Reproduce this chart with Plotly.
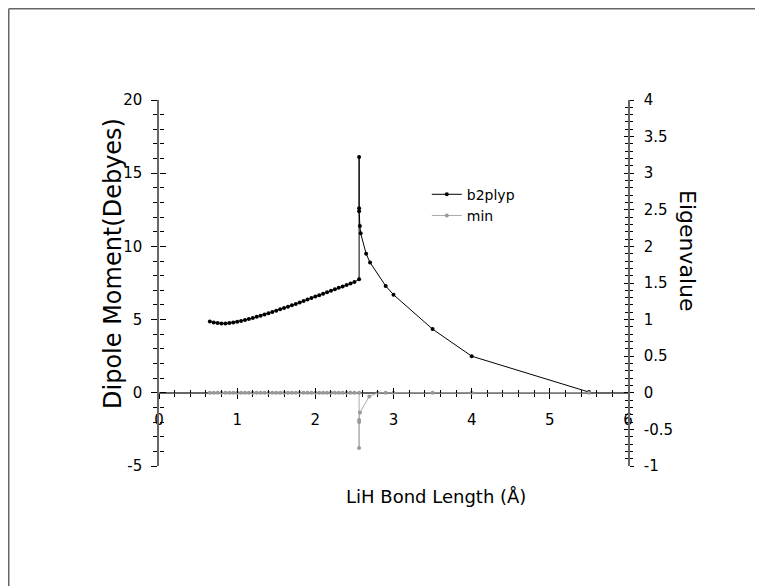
import plotly.graph_objects as go

# ---------------- data ----------------
b2_x = [0.65, 0.70, 0.75, 0.80, 0.85, 0.90, 0.95, 1.00, 1.05, 1.10, 1.15, 1.20, 1.25, 1.30,
        1.35, 1.40, 1.45, 1.50, 1.55, 1.60, 1.65, 1.70, 1.75, 1.80, 1.85, 1.90, 1.95, 2.00,
        2.05, 2.10, 2.15, 2.20, 2.25, 2.30, 2.35, 2.40, 2.45, 2.50, 2.56,
        2.56, 2.56, 2.56, 2.57, 2.58, 2.65, 2.70, 2.90, 3.00, 3.50, 4.00, 5.50]
b2_y = [4.87, 4.80, 4.76, 4.74, 4.74, 4.76, 4.80, 4.85, 4.91, 4.97, 5.04, 5.11, 5.19, 5.27,
        5.35, 5.43, 5.52, 5.61, 5.70, 5.79, 5.88, 5.98, 6.07, 6.17, 6.27, 6.37, 6.47, 6.57,
        6.67, 6.77, 6.87, 6.97, 7.07, 7.17, 7.26, 7.36, 7.46, 7.56, 7.76,
        16.1, 12.6, 12.4, 11.4, 10.9, 9.5, 8.9, 7.3, 6.7, 4.35, 2.5, 0.05]

min_x = [0.65, 0.70, 0.75, 0.80, 0.85, 0.90, 0.95, 1.00, 1.05, 1.10, 1.15, 1.20, 1.25, 1.30,
         1.35, 1.40, 1.45, 1.50, 1.55, 1.60, 1.65, 1.70, 1.75, 1.80, 1.85, 1.90, 1.95, 2.00,
         2.05, 2.10, 2.15, 2.20, 2.25, 2.30, 2.35, 2.40, 2.45, 2.50, 2.56,
         2.56, 2.56, 2.56, 2.57, 2.69, 2.80, 2.90, 3.00, 3.50, 4.00, 5.50]
min_y = [0.0] * 39 + [-0.755, -0.40, -0.37, -0.27, -0.05, 0.0, 0.0, 0.0, 0.0, 0.0, 0.0]

x_ticks = [0, 1, 2, 3, 4, 5, 6]
x_ticktext = ["0", "1", "2", "3", "4", "5", "6"]
y_ticks = [-5, 0, 5, 10, 15, 20]
y_ticktext = ["-5", "0", "5", "10", "15", "20"]
y2_ticks = [-1, -0.5, 0, 0.5, 1, 1.5, 2, 2.5, 3, 3.5, 4]
y2_ticktext = ["-1", "-0.5", "0", "0.5", "1", "1.5", "2", "2.5", "3", "3.5", "4"]

FONT = "DejaVu Sans"
AXC = "#666666"
TC = "black"

OFF = 8
PL, PR, PT, PB = 159, 628, 100, 466


def px(x):
    return (x - PL) / (PR - PL)


def py(y):
    return (PB - y) / (PB - PT)


fig = go.Figure()

fig.add_trace(go.Scatter(
    x=b2_x, y=b2_y, name="b2plyp", mode="lines+markers",
    line=dict(color="black", width=1), marker=dict(color="black", size=4),
    xaxis="x", yaxis="y"))
fig.add_trace(go.Scatter(
    x=min_x, y=min_y, name="min", mode="lines+markers",
    line=dict(color="#aaaaaa", width=1), marker=dict(color="#999999", size=4),
    xaxis="x", yaxis="y2"))

# helper traces on separate axes that carry the inside half of the crossing ticks
for xa, ya in [("x2", "y5"), ("x3", "y3"), ("x3", "y4")]:
    fig.add_trace(go.Scatter(x=[3], y=[0], xaxis=xa, yaxis=ya, mode="markers",
                             marker=dict(size=1, opacity=0),
                             showlegend=False, hoverinfo="skip"))

tickfont = dict(family=FONT, size=15, color="black")
W, H = 763 - OFF, 586 - OFF

hidden = dict(showline=False, showgrid=False, zeroline=False, showticklabels=False, ticks="")

fig.update_layout(
    width=W, height=H,
    margin=dict(l=PL - OFF, r=W - (PR - OFF), t=PT - OFF, b=H - (PB - OFF)),
    paper_bgcolor="white", plot_bgcolor="rgba(0,0,0,0)",
    font=dict(family=FONT, color="black"),
    showlegend=True,
    legend=dict(x=0.571, y=0.785, xanchor="left", yanchor="top",
                font=dict(family=FONT, size=14, color="black"),
                bgcolor="rgba(0,0,0,0)", itemwidth=30, tracegroupgap=0),
    xaxis=dict(range=[0, 6], domain=[0, 1], anchor="free", position=0.2,
               showline=True, linecolor=AXC, linewidth=1.5, layer="below traces",
               showgrid=False, zeroline=False,
               tickmode="array", tickvals=x_ticks, ticktext=x_ticktext,
               ticks="outside", ticklen=5, tickwidth=1, tickcolor="black",
               minor=dict(dtick=0.2, tick0=0, ticks="outside", ticklen=3, tickcolor="black", showgrid=False),
               tickfont=tickfont, ticklabelstandoff=8),
    xaxis2=dict(range=[0, 6], domain=[0, 1], anchor="free", position=0.2, side="bottom",
                showline=False, showgrid=False, zeroline=False, layer="below traces",
                tickmode="array", tickvals=x_ticks, showticklabels=False,
                ticks="inside", ticklen=5, tickwidth=1, tickcolor=TC,
                minor=dict(dtick=0.2, tick0=0, ticks="inside", ticklen=3, tickcolor=TC, showgrid=False)),
    yaxis5=dict(range=[-5, 20], domain=[0, 1], anchor="free", position=0, **hidden),
    xaxis3=dict(range=[0, 6], domain=[0, 1], anchor="free", position=0, **hidden),
    yaxis=dict(range=[-5, 20], domain=[0, 1], anchor="x", side="left",
               showline=True, linecolor=AXC, linewidth=1.5,
               showgrid=False, zeroline=False,
               tickmode="array", tickvals=y_ticks, ticktext=y_ticktext,
               ticks="outside", ticklen=6, tickwidth=1, tickcolor="black",
               minor=dict(dtick=1, tick0=0, ticks="outside", ticklen=4, tickcolor="black", showgrid=False),
               tickfont=tickfont, ticklabelstandoff=6),
    yaxis3=dict(range=[-5, 20], domain=[0, 1], anchor="free", position=0, side="left",
                showline=False, showgrid=False, zeroline=False,
                tickmode="array", tickvals=y_ticks, showticklabels=False,
                ticks="inside", ticklen=6, tickwidth=1, tickcolor=TC,
                minor=dict(dtick=1, tick0=0, ticks="inside", ticklen=4, tickcolor=TC, showgrid=False)),
    yaxis2=dict(range=[-1, 4], overlaying="y", anchor="x", side="right",
                showline=True, linecolor=AXC, linewidth=1.5,
                showgrid=False, zeroline=False,
                tickmode="array", tickvals=y2_ticks, ticktext=y2_ticktext,
                ticks="outside", ticklen=4, tickwidth=1, tickcolor="black",
                minor=dict(dtick=0.1, tick0=0, ticks="outside", ticklen=3, tickcolor="black", showgrid=False),
                tickfont=tickfont, ticklabelstandoff=7),
    yaxis4=dict(range=[-1, 4], overlaying="y3", anchor="free", position=1, side="right",
                showline=False, showgrid=False, zeroline=False,
                tickmode="array", tickvals=y2_ticks, showticklabels=False,
                ticks="inside", ticklen=4, tickwidth=1, tickcolor=TC,
                minor=dict(dtick=0.1, tick0=0, ticks="inside", ticklen=3, tickcolor=TC, showgrid=False)),
)

fig.add_annotation(text="Dipole Moment(Debyes)", xref="paper", yref="paper",
                   x=px(113), y=py(264), xanchor="center", yanchor="middle", textangle=-90,
                   showarrow=False, font=dict(family=FONT, size=24, color="black"))
fig.add_annotation(text="Eigenvalue", xref="paper", yref="paper",
                   x=px(688), y=py(251), xanchor="center", yanchor="middle", textangle=90,
                   showarrow=False, font=dict(family=FONT, size=22, color="black"))
fig.add_annotation(text="LiH Bond Length (Å)", xref="paper", yref="paper",
                   x=px(436), y=py(496), xanchor="center", yanchor="middle",
                   showarrow=False, font=dict(family=FONT, size=18, color="black"))

fx0 = px(OFF + 0.75)
fy0 = py(OFF + 0.75)
fig.add_shape(type="line", xref="paper", yref="paper", x0=fx0, y0=fy0, x1=2.0, y1=fy0,
              line=dict(color="#666666", width=1.5))
fig.add_shape(type="line", xref="paper", yref="paper", x0=fx0, y0=fy0, x1=fx0, y1=-2.0,
              line=dict(color="#666666", width=1.5))

fig.write_html("out.html")
